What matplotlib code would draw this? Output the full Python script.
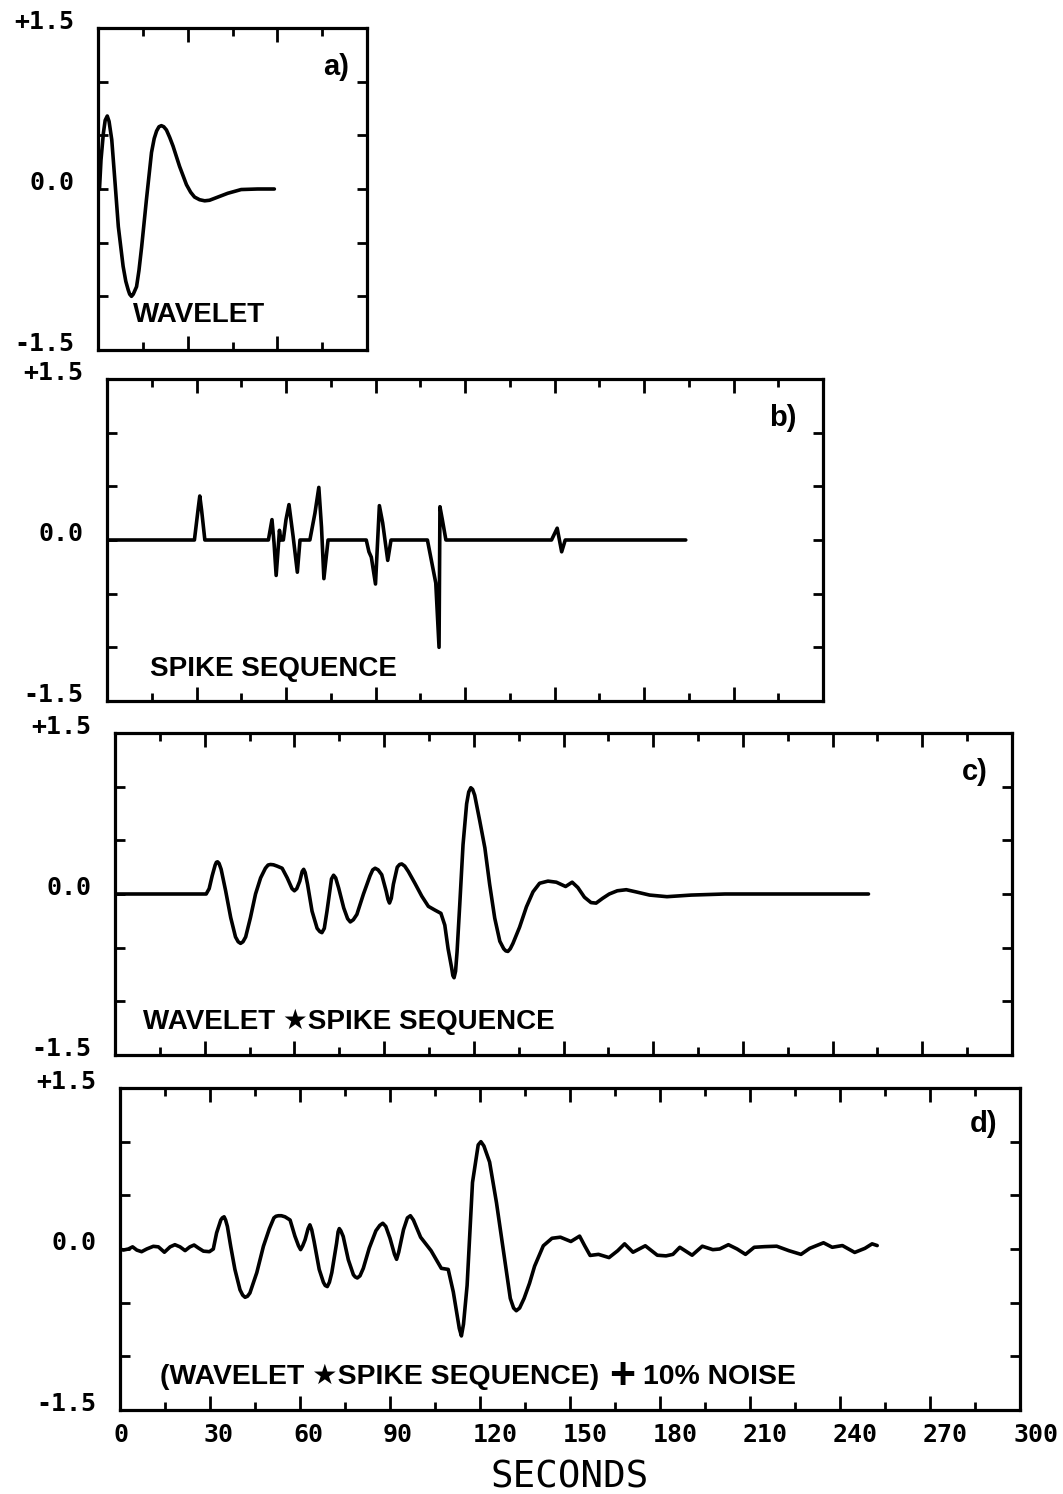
import matplotlib
matplotlib.use("Agg")
import matplotlib.pyplot as plt

W, H = 1063, 1494

# (seconds, amplitude)
wavelet = [
    (0.5, 0.0), (1.0, 0.27), (1.8, 0.52), (2.4, 0.64), (3.1, 0.68), (3.7, 0.63),
    (4.6, 0.46), (5.7, 0.06), (6.8, -0.35), (8.4, -0.72), (9.3, -0.86),
    (10.1, -0.94), (10.6, -0.98), (11.2, -1.00), (11.8, -0.98), (12.9, -0.91),
    (13.7, -0.76), (14.6, -0.54), (16.2, -0.10), (17.9, 0.34), (18.8, 0.47),
    (19.6, 0.54), (20.4, 0.58), (21.2, 0.59), (22.0, 0.58), (22.9, 0.55),
    (24.0, 0.48), (25.1, 0.40), (27.3, 0.21), (29.6, 0.04), (31.0, -0.03),
    (32.3, -0.075), (34.0, -0.10), (35.7, -0.11), (37.3, -0.105), (39.0, -0.087),
    (43.4, -0.04), (47.9, -0.005), (53.4, 0.0), (59.0, 0.0),
]

spikes = [
    (0.0, 0.0), (29.3, 0.0), (30.6, 0.30), (31.1, 0.41), (31.7, 0.28), (32.8, 0.0),
    (54.1, 0.0), (55.3, 0.19), (56.0, -0.03), (56.7, -0.33), (57.5, -0.03),
    (57.8, 0.09), (58.3, 0.0), (59.1, 0.0), (60.0, 0.19), (61.0, 0.33),
    (62.4, 0.03), (63.8, -0.30), (64.7, 0.0), (68.0, 0.0), (69.7, 0.25),
    (71.0, 0.49), (71.9, 0.12), (72.7, -0.36), (74.1, 0.0), (86.9, 0.0),
    (87.8, -0.11), (88.6, -0.16), (90.0, -0.41), (91.3, 0.32), (92.4, 0.16),
    (94.1, -0.19), (95.2, 0.0), (107.4, 0.0), (110.2, -0.40), (111.3, -1.0),
    (111.6, 0.31), (112.4, 0.19), (113.6, 0.0), (149.0, 0.0), (150.9, 0.11),
    (152.4, -0.11), (153.6, 0.0), (194.0, 0.0),
]

convolved = [
    (0.0, 0.0), (30.5, 0.0), (31.5, 0.05), (32.5, 0.17), (33.5, 0.27), (33.9, 0.295),
    (34.3, 0.30), (34.8, 0.285), (35.5, 0.23), (37.0, 0.03), (38.7, -0.22),
    (40.3, -0.40), (41.2, -0.445), (42.0, -0.46), (42.8, -0.445), (43.7, -0.40),
    (45.3, -0.22), (47.0, 0.0), (48.7, 0.15), (50.3, 0.24), (51.2, 0.27),
    (52.0, 0.275), (53.0, 0.272), (54.2, 0.26), (55.9, 0.24), (57.6, 0.15),
    (59.2, 0.05), (60.0, 0.03), (60.8, 0.05), (61.8, 0.12), (62.6, 0.21),
    (63.1, 0.23), (63.6, 0.20), (64.4, 0.09), (65.9, -0.16), (67.6, -0.32),
    (68.5, -0.35), (69.2, -0.36), (70.0, -0.32), (70.9, -0.16), (72.4, 0.14),
    (73.1, 0.175), (73.8, 0.15), (74.8, 0.056), (76.5, -0.13), (77.8, -0.23),
    (78.7, -0.26), (79.7, -0.24), (80.9, -0.19), (83.1, 0.0), (85.3, 0.17),
    (86.2, 0.225), (87.0, 0.24), (88.0, 0.225), (89.2, 0.18), (90.7, 0.025),
    (91.3, -0.05), (91.8, -0.084), (92.4, -0.04), (93.1, 0.09), (94.4, 0.25),
    (95.2, 0.275), (95.9, 0.28), (96.9, 0.26), (98.1, 0.21), (100.3, 0.10),
    (102.6, -0.02), (104.8, -0.115), (107.0, -0.15), (109.0, -0.18), (110.3, -0.29),
    (111.4, -0.51), (112.6, -0.69), (113.0, -0.76), (113.4, -0.78), (113.9, -0.72),
    (114.4, -0.54), (115.3, -0.10), (116.4, 0.46), (117.6, 0.84), (118.3, 0.95),
    (119.0, 0.99), (119.6, 0.975), (120.3, 0.92), (122.0, 0.68), (123.7, 0.43),
    (125.3, 0.09), (127.0, -0.225), (128.7, -0.44), (130.0, -0.51), (130.7, -0.53),
    (131.4, -0.535), (132.2, -0.51), (133.1, -0.46), (135.3, -0.31), (137.6, -0.12),
    (139.8, 0.02), (142.0, 0.10), (144.8, 0.12), (147.6, 0.11), (150.7, 0.07),
    (152.9, 0.11), (154.8, 0.06), (157.0, -0.03), (159.2, -0.08), (160.9, -0.085),
    (163.1, -0.04), (165.3, 0.0), (168.0, 0.03), (171.0, 0.04), (174.2, 0.02),
    (178.8, -0.01), (184.6, -0.025), (192.7, -0.01), (204.0, 0.0), (252.0, 0.0),
]

noisy = [
    (0.0, 0.0), (1.1, -0.01), (2.8, 0.0), (4.2, 0.02), (5.6, -0.01), (7.2, -0.025),
    (8.9, 0.0), (11.1, 0.025), (12.8, 0.02), (14.8, -0.03), (16.7, 0.02),
    (18.3, 0.04), (20.0, 0.02), (21.7, -0.015), (23.3, 0.02), (24.7, 0.037),
    (26.1, 0.01), (27.8, -0.02), (29.8, -0.025), (31.1, 0.0), (32.2, 0.15),
    (33.6, 0.27), (34.1, 0.29), (34.7, 0.30), (35.2, 0.27), (35.8, 0.21),
    (36.9, 0.025), (38.3, -0.19), (40.0, -0.38), (40.9, -0.43), (41.7, -0.45),
    (42.5, -0.44), (43.3, -0.41), (45.6, -0.22), (47.8, 0.025), (49.8, 0.19),
    (51.3, 0.29), (52.0, 0.305), (52.8, 0.31), (53.8, 0.31), (55.0, 0.30),
    (56.7, 0.27), (58.3, 0.12), (59.5, 0.03), (60.2, -0.006), (60.9, 0.03),
    (61.7, 0.086), (62.7, 0.19), (63.3, 0.225), (63.9, 0.18), (64.7, 0.07),
    (66.4, -0.19), (67.8, -0.31), (68.4, -0.34), (69.1, -0.35), (69.8, -0.31),
    (70.6, -0.22), (72.2, 0.055), (72.7, 0.16), (73.1, 0.19), (73.6, 0.17),
    (74.4, 0.117), (76.1, -0.10), (77.8, -0.24), (78.4, -0.26), (79.1, -0.27),
    (80.0, -0.25), (81.1, -0.18), (83.1, 0.01), (85.3, 0.17), (86.6, 0.22),
    (87.6, 0.24), (88.6, 0.21), (90.0, 0.10), (91.5, -0.05), (92.2, -0.096),
    (92.9, -0.03), (94.5, 0.18), (95.8, 0.29), (96.8, 0.31), (97.8, 0.27),
    (100.2, 0.11), (103.7, -0.016), (107.1, -0.18), (109.4, -0.19), (111.1, -0.40),
    (113.1, -0.74), (113.8, -0.81), (114.5, -0.70), (115.7, -0.34), (117.5, 0.62),
    (119.4, 0.97), (120.3, 1.00), (121.3, 0.96), (123.2, 0.81), (125.5, 0.43),
    (127.8, -0.016), (130.1, -0.46), (131.2, -0.55), (132.1, -0.575), (133.2, -0.55),
    (134.7, -0.46), (136.5, -0.32), (138.2, -0.16), (141.1, 0.03), (144.0, 0.10),
    (146.8, 0.11), (150.3, 0.07), (153.2, 0.12), (154.9, 0.03), (156.7, -0.06),
    (159.5, -0.05), (163.0, -0.08), (165.9, -0.016), (168.2, 0.048), (171.0, -0.03),
    (175.1, 0.03), (179.1, -0.058), (182.0, -0.064), (184.3, -0.05), (186.6, 0.016),
    (190.7, -0.058), (194.1, 0.026), (197.6, -0.006), (199.9, 0.0), (202.8, 0.04),
    (205.7, 0.0), (208.5, -0.05), (211.4, 0.016), (214.9, 0.022), (218.9, 0.026),
    (223.0, -0.016), (227.0, -0.05), (229.9, 0.006), (234.5, 0.058), (237.4, 0.016),
    (240.8, 0.032), (244.9, -0.032), (248.3, 0.006), (250.7, 0.048), (252.4, 0.032),
]

y_label_vals = [1.5, 0.0, -1.5]
y_label_text = ["+1.5", "0.0", "-1.5"]
x_tick_vals = [0, 30, 60, 90, 120, 150, 180, 210, 240, 270, 300]
x_tick_text = [str(v) for v in x_tick_vals]

MONO = "DejaVu Sans Mono"
BOLD = ["Liberation Sans", "DejaVu Sans"]

# caption pieces: (text, fontsize, gap before it in points)
cap_a = [("WAVELET", 20, 0)]
cap_b = [("SPIKE SEQUENCE", 20, 0)]
cap_c = [("WAVELET \u2605SPIKE SEQUENCE", 20, 0)]
cap_d = [("(WAVELET \u2605SPIKE SEQUENCE)", 20.4, 0), ("+", 32, 7), ("10% NOISE", 20.4, 6)]

# panel layout: pixel box (left, top, right, bottom), x range, caption, letter
panels = [
    dict(data=wavelet, box=(98, 28, 367, 350), xmax=90,
         caption=cap_a, cap_xy=(11.7, -1.24), letter="a)", let_xy=(84, 1.06)),
    dict(data=spikes, box=(107, 379, 823, 701), xmax=240,
         caption=cap_b, cap_xy=(14.5, -1.27), letter="b)", let_xy=(231, 1.06)),
    dict(data=convolved, box=(115, 733, 1012, 1055), xmax=300,
         caption=cap_c, cap_xy=(9.5, -1.26), letter="c)", let_xy=(292, 1.06)),
    dict(data=noisy, box=(120, 1088, 1020, 1410), xmax=300,
         caption=cap_d, cap_xy=(13.3, -1.26), letter="d)", let_xy=(292.5, 1.09)),
]

fig = plt.figure(figsize=(W / 100, H / 100), dpi=100)
fig.patch.set_facecolor("white")

axes = []
for p in panels:
    l, t, r, b = p["box"]
    ax = fig.add_axes([l / W, 1 - b / H, (r - l) / W, (b - t) / H])
    xs = [pt[0] for pt in p["data"]]
    ys = [pt[1] for pt in p["data"]]
    ax.plot(xs, ys, color="black", lw=2.6, solid_joinstyle="round",
            solid_capstyle="round")

    ax.set_xlim(0, p["xmax"])
    ax.set_ylim(-1.5, 1.5)
    for s in ax.spines.values():
        s.set_linewidth(2.3)

    ax.set_xticks(list(range(30, p["xmax"], 30)))
    ax.set_xticks(list(range(15, p["xmax"], 30)), minor=True)
    ax.set_yticks([-1.0, -0.5, 0.0, 0.5, 1.0])
    ax.tick_params(axis="x", which="major", direction="in", length=10, width=2.0,
                   top=True, bottom=True, labelbottom=False)
    ax.tick_params(axis="x", which="minor", direction="in", length=5.5, width=2.0,
                   top=True, bottom=True)
    ax.tick_params(axis="y", direction="in", length=7, width=2.0,
                   left=True, right=True, labelleft=False)

    for val, txt in zip(y_label_vals, y_label_text):
        ax.annotate(txt, xy=(0, val), xycoords=("axes fraction", "data"),
                    xytext=(-17, 4), textcoords="offset points",
                    ha="right", va="center", fontsize=18, family=MONO,
                    fontweight="bold", annotation_clip=False)

    # caption, built piece by piece so the plus sign can be larger
    first, size0, _ = p["caption"][0]
    prev = ax.text(p["cap_xy"][0], p["cap_xy"][1], first, ha="left", va="baseline",
                   fontsize=size0, fontweight="bold", family=BOLD)
    for txt, size, gap in p["caption"][1:]:
        prev = ax.annotate(txt, xy=(1, 0.5), xycoords=prev, xytext=(gap, 0),
                           textcoords="offset points", ha="left", va="center",
                           fontsize=size, fontweight="bold", family=BOLD)

    ax.text(p["let_xy"][0], p["let_xy"][1], p["letter"], ha="right", va="baseline",
            fontsize=21, fontweight="bold", family=BOLD)
    axes.append(ax)

# time labels only under the bottom panel
ax = axes[-1]
for val, txt in zip(x_tick_vals, x_tick_text):
    ax.annotate(txt, xy=(val, 0), xycoords=("data", "axes fraction"),
                xytext=(-5, -9), textcoords="offset points",
                ha="left", va="top", fontsize=18, family=MONO,
                fontweight="bold", annotation_clip=False)

fig.text(570 / W, 1 - 1477 / H, "SECONDS", ha="center", va="center",
         fontsize=27, family=MONO)

fig.savefig("out.png", dpi=100, facecolor="white")
